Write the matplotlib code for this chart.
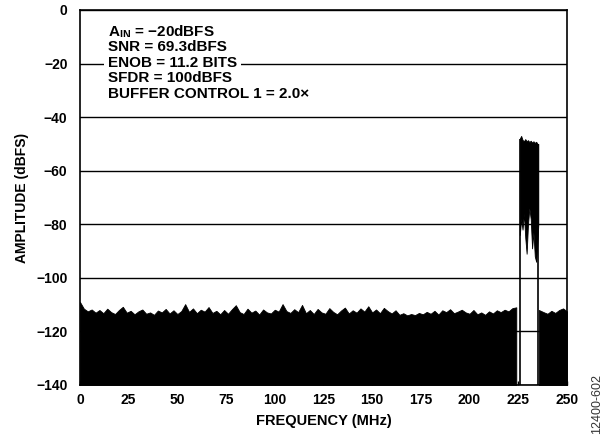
import numpy as np
import matplotlib
matplotlib.use("Agg")
import matplotlib.pyplot as plt

plt.rcParams['font.family'] = ['Liberation Sans', 'DejaVu Sans']
plt.rcParams['mathtext.fontset'] = 'custom'
plt.rcParams['mathtext.rm'] = 'Liberation Sans:bold'
plt.rcParams['mathtext.bf'] = 'Liberation Sans:bold'

# noise floor envelope, 0..224 MHz every 2 MHz (dBFS)
noise_top = [
    -109.0, -111.5, -112.5, -111.8, -113.0, -112.0, -113.2, -111.5, -112.8, -113.5,
    -112.0, -110.8, -113.0, -112.3, -113.6, -112.5, -111.8, -113.4, -112.9, -113.8,
    -112.2, -112.9, -111.6, -113.3, -112.1, -113.5, -112.4, -109.8, -112.7, -111.4,
    -113.2, -111.9, -112.6, -110.9, -113.1, -112.3, -113.6, -112.0, -113.4, -111.7,
    -110.2, -112.8, -113.5, -111.5, -113.0, -112.2, -113.7, -111.8, -112.9, -113.3,
    -111.9, -112.6, -109.8, -112.4, -113.1, -111.7, -112.8, -110.1, -113.2, -112.0,
    -113.5, -111.6, -112.9, -113.4, -111.3, -112.7, -113.6, -112.2, -111.1, -113.3,
    -112.1, -113.0, -111.4, -112.6, -110.6, -112.9, -111.8, -113.2, -111.2, -112.4,
    -113.3, -112.1, -113.8, -113.2, -114.0, -113.5, -113.9, -113.1, -113.6, -112.7,
    -113.4, -112.3, -113.7, -112.1, -112.8, -111.7, -113.2, -112.6, -111.9, -112.9,
    -113.4, -112.0, -113.6, -112.9, -113.8, -112.5, -113.3, -112.1, -112.8, -111.9,
    -112.5, -111.3, -111.0,
]
noise_freq = np.arange(len(noise_top)) * 2.0

# signal band (wideband tone around 230 MHz)
band_freq = [225.8, 226.5, 227.2, 227.9, 228.6, 229.3, 230.0, 230.7,
             231.4, 232.1, 232.8, 233.5, 234.2, 234.9, 235.3]
band_top = [-48.0, -47.0, -48.5, -49.0, -48.2, -49.0, -48.6, -49.3,
            -48.8, -49.5, -49.0, -49.6, -49.2, -50.0, -50.0]
band_bottom = [-84.0, -78.0, -82.0, -76.0, -85.0, -91.0, -80.0, -74.0,
               -78.0, -89.0, -83.0, -92.0, -94.0, -86.0, -80.0]

# noise floor above the band
tail_freq = [235.6, 238, 240, 242, 244, 246, 248, 250]
tail_top = [-112.0, -112.8, -113.4, -112.3, -113.1, -112.0, -111.4, -112.5]

notes = [r'A$_{\mathbf{IN}}$ = −20dBFS', 'SNR = 69.3dBFS', 'ENOB = 11.2 BITS',
         'SFDR = 100dBFS', 'BUFFER CONTROL 1 = 2.0×']

fig = plt.figure(figsize=(6.11, 4.44), dpi=100)
ax = fig.add_axes([0.1309, 0.1329, 0.797, 0.8446])

floor = -140
ax.fill_between(noise_freq, floor, noise_top, color='black', lw=0.6, ec='black')
ax.fill_between(tail_freq, floor, tail_top, color='black', lw=0.6, ec='black')
ax.fill_between(band_freq, band_bottom, band_top, color='black', lw=0.6, ec='black')
ax.vlines([band_freq[0], band_freq[-1]], floor, [band_top[0], band_top[-1]],
          color='black', lw=1.2)

ax.set_xlim(0, 250)
ax.set_ylim(-140, 0)
ax.set_xticks(np.arange(0, 251, 25))
ax.set_yticks(np.arange(-140, 1, 20))
ax.set_yticklabels(['−140', '−120', '−100', '−80', '−60', '−40', '−20', '0'])
ax.yaxis.grid(True, color='black', lw=1.0)
ax.set_axisbelow(True)
ax.tick_params(axis='x', direction='in', length=3, width=1, pad=6)
ax.tick_params(axis='y', direction='in', length=0, pad=9)
for lab in ax.get_xticklabels() + ax.get_yticklabels():
    lab.set_fontweight('bold')
    lab.set_fontsize(10)
for s in ax.spines.values():
    s.set_linewidth(1.2)

ax.set_xlabel('FREQUENCY (MHz)', fontsize=10.5, fontweight='bold', labelpad=5)
ax.set_ylabel('AMPLITUDE (dBFS)', fontsize=10, fontweight='bold', labelpad=5)

for i, t in enumerate(notes):
    ax.text(14.4, -8.2 - i * 5.75, t, fontsize=11, fontweight='bold', va='center',
            ha='left', bbox=dict(boxstyle='square,pad=0.25', fc='white', ec='none'))

fig.text(0.977, 0.09, '12400-602', rotation=90, fontsize=9, color='#333333',
         ha='center', va='center')

fig.savefig('out.png', dpi=100)
